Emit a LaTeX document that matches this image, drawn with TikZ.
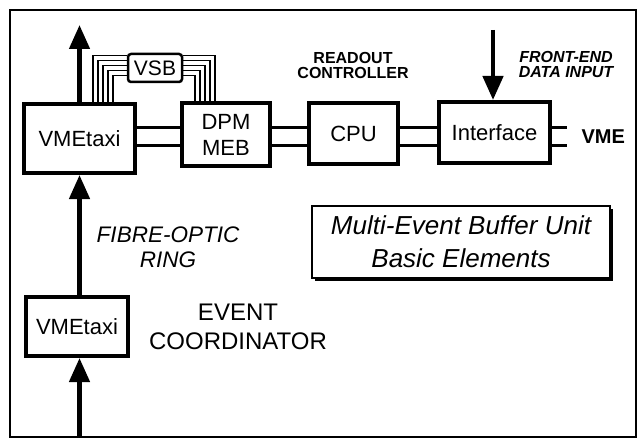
\documentclass[tikz,border=0pt]{standalone}
\usepackage{fontspec}
\setmainfont{Liberation Sans}
\usetikzlibrary{arrows.meta,positioning,shadows}

\begin{document}
\begin{tikzpicture}[x=1pt, y=-1pt,
  unit/.style={draw, line width=4pt, fill=white, inner sep=0pt, align=center, font=\fontsize{22}{26}\selectfont},
  bus/.style={line width=3pt},
  vsbline/.style={line width=1.4pt},
  flow/.style={line width=4.5pt, -{Triangle[length=24pt,width=20pt]}},
  lbl/.style={align=center, font=\fontsize{16}{15}\selectfont\bfseries}
]
  \useasboundingbox (0,0) rectangle (639,441);
  \draw[line width=2pt] (10,10) rectangle (636,437);

  \node[unit, minimum width=111pt, minimum height=69pt] (taxi) at (79.5,138.5) {VMEtaxi};
  \node[unit, minimum width=88pt, minimum height=62pt] (dpm) at (226,134.5) {DPM\\MEB};
  \node[unit, minimum width=89pt, minimum height=60pt] (cpu) at (353.5,133.5) {CPU};
  \node[unit, minimum width=111pt, minimum height=61pt] (iface) at (494.5,132.5) {Interface};
  \node[unit, minimum width=102pt, minimum height=59pt] (lowtaxi) at (77,326.5) {VMEtaxi};
  \node[draw, line width=2.5pt, rounded corners=3pt, fill=white, minimum width=54pt, minimum height=28pt, inner sep=0pt, font=\fontsize{21}{21}\selectfont] (vsb) at (155,68) {VSB};

  \node[draw, line width=2.5pt, fill=white, drop shadow={shadow xshift=3pt, shadow yshift=-3pt, opacity=1, fill=black}, minimum width=298pt, minimum height=72pt, align=center, font=\fontsize{26}{33}\selectfont\itshape] (title) at (461,242) {Multi-Event Buffer Unit\\Basic Elements};

  \node[lbl] (readout) at (353,65) {READOUT\\CONTROLLER};
  \node[lbl, font=\fontsize{16}{15}\selectfont\bfseries\itshape] (frontend) at (566,64) {FRONT-END\\DATA INPUT};
  \node[align=center, font=\fontsize{22.5}{25}\selectfont\itshape] (fibre) at (168,247) {FIBRE-OPTIC\\RING};
  \node[align=center, font=\fontsize{24}{29}\selectfont] (event) at (238,327) {EVENT\\COORDINATOR};
  \node[anchor=west, font=\fontsize{20}{20}\selectfont\bfseries] (vme) at (578,137) {VME};

  \coordinate (ringout) at (79.5,25);
  \coordinate (ringin) at (79.5,437);
  \coordinate (fedata) at (493,30);

  \draw[flow] (taxi.north) -- (ringout);
  \draw[flow] (lowtaxi.north -| taxi.south) -- (taxi.south);
  \draw[flow] (ringin) -- (lowtaxi.south -| ringin);
  \draw[flow] (fedata) -- (iface.north -| fedata);

  \foreach \y in {127,145} {
    \draw[bus] (taxi.east |- 0,\y) -- (dpm.west |- 0,\y);
    \draw[bus] (dpm.east |- 0,\y) -- (cpu.west |- 0,\y);
    \draw[bus] (cpu.east |- 0,\y) -- (iface.west |- 0,\y);
    \draw[bus, shorten >=11pt] (iface.east |- 0,\y) -- (vme.west |- 0,\y);
  }

  \foreach \i in {0,...,4} {
    \draw[vsbline] ([xshift={71+5*\i}]taxi.north west) |- ([yshift={-3-5*\i}]vsb.north west);
    \draw[vsbline] ([xshift={35-5*\i}]dpm.north west) |- ([yshift={-3-5*\i}]vsb.north east);
  }
\end{tikzpicture}
\end{document}
